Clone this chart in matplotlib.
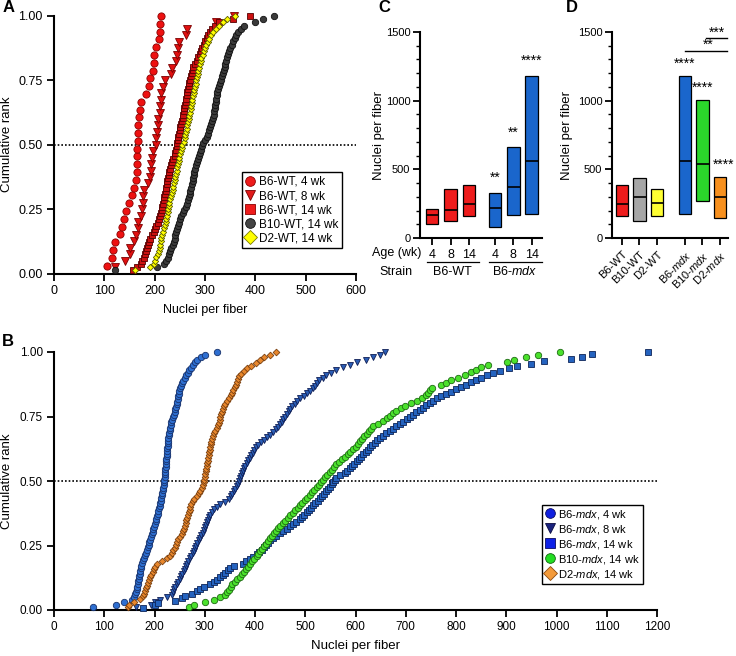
import numpy as np
import matplotlib
matplotlib.use('Agg')
import matplotlib.pyplot as plt
import matplotlib.transforms as mtransforms
from matplotlib.lines import Line2D
from matplotlib.ticker import MultipleLocator, FormatStrFormatter

plt.rcParams['font.family'] = ['Liberation Sans', 'DejaVu Sans']
plt.rcParams['mathtext.fontset'] = 'custom'
plt.rcParams['mathtext.rm'] = 'Liberation Sans'
plt.rcParams['mathtext.it'] = 'Liberation Sans:italic'

# ---- panel A: wild-type nuclei per fiber (sorted values) ----
a_b6wt_4 = [105, 115, 118, 122, 131, 135, 140, 143, 149, 155, 159, 163, 165, 165, 165, 165,
            167, 167, 167, 169, 170, 173, 183, 189, 190, 197, 199, 199, 203, 209, 211, 211, 213]
a_b6wt_8 = [122, 142, 150, 151, 158, 163, 167, 167, 172, 175, 177, 177, 178, 187, 191, 193,
            193, 195, 197, 202, 203, 205, 207, 207, 210, 210, 212, 213, 217, 220, 233, 235,
            243, 245, 247, 249, 263, 265, 322, 357]
a_b6wt_14 = [157, 165, 172, 175, 178, 180, 182, 184, 186, 189, 191, 195, 198, 200, 203, 206,
             208, 210, 212, 214, 215, 217, 218, 219, 221, 222, 223, 224, 225, 226, 228, 229,
             231, 232, 234, 237, 240, 241, 242, 244, 245, 246, 247, 249, 250, 251, 253, 254,
             256, 257, 258, 259, 260, 262, 263, 264, 265, 267, 268, 269, 271, 272, 274, 276,
             277, 280, 284, 287, 290, 292, 295, 298, 300, 303, 306, 309, 314, 320, 328, 355, 389]
a_b10wt_14 = [122, 205, 218, 223, 226, 228, 231, 233, 236, 238, 240, 241, 243, 245, 247, 249,
              251, 253, 256, 259, 262, 264, 266, 268, 270, 271, 272, 274, 276, 277, 278, 279,
              281, 282, 284, 287, 289, 291, 293, 295, 297, 300, 303, 305, 307, 310, 311, 313,
              315, 317, 318, 319, 320, 321, 322, 323, 324, 326, 328, 330, 332, 334, 336, 337,
              339, 340, 342, 344, 346, 347, 350, 353, 356, 359, 362, 366, 372, 378, 400, 415, 437]
a_d2wt_14 = [160, 190, 198, 201, 203, 206, 208, 210, 211, 212, 213, 215, 216, 218, 220, 222,
             223, 224, 226, 227, 228, 229, 231, 233, 234, 236, 237, 239, 240, 241, 243, 244,
             245, 247, 248, 249, 250, 252, 254, 255, 258, 260, 261, 262, 264, 265, 267, 268,
             269, 270, 272, 273, 274, 275, 277, 278, 279, 280, 282, 283, 285, 286, 287, 289,
             290, 292, 293, 296, 298, 300, 302, 305, 307, 311, 316, 322, 328, 335, 343, 360]

# ---- panel B: mdx nuclei per fiber ----
b_b6mdx_4 = [77, 124, 140, 155, 160, 162, 164, 165, 166, 167, 168, 169, 170, 171, 172, 173,
             174, 175, 177, 179, 181, 183, 185, 187, 189, 190, 191, 193, 195, 197, 198, 199,
             201, 202, 203, 205, 206, 207, 209, 210, 211, 212, 213, 214, 215, 216, 217, 218,
             219, 219, 220, 220, 221, 221, 222, 222, 223, 223, 224, 224, 225, 225, 226, 226,
             227, 227, 228, 229, 230, 231, 232, 233, 235, 237, 238, 240, 241, 243, 244, 245,
             246, 247, 248, 249, 251, 253, 255, 257, 260, 263, 266, 268, 272, 276, 280, 285,
             292, 300, 325]
b_b6mdx_8 = [164, 194, 201, 211, 225, 234, 236, 238, 241, 244, 247, 250, 252, 255, 258, 260,
             262, 264, 267, 270, 273, 276, 278, 280, 283, 285, 288, 291, 293, 296, 298, 300,
             302, 304, 306, 308, 311, 314, 318, 324, 331, 340, 348, 352, 355, 358, 361, 364,
             366, 368, 370, 372, 374, 376, 378, 381, 384, 387, 390, 393, 396, 399, 402, 406,
             412, 418, 424, 430, 436, 441, 445, 449, 453, 456, 460, 463, 467, 470, 474, 479,
             484, 490, 497, 503, 510, 516, 520, 524, 528, 535, 542, 552, 562, 576, 590, 602,
             620, 635, 648, 659]
b_b6mdx_14 = [177, 201, 207, 241, 254, 261, 274, 284, 291, 298, 311, 318, 324, 331, 336, 341,
              346, 351, 358, 377, 383, 390, 397, 403, 408, 413, 417, 422, 426, 430, 436, 442,
              450, 456, 463, 470, 476, 482, 489, 494, 498, 503, 508, 512, 516, 520, 525, 529,
              534, 538, 542, 546, 550, 553, 556, 559, 562, 570, 579, 584, 589, 594, 598, 602,
              607, 611, 615, 620, 624, 628, 633, 638, 642, 648, 655, 661, 668, 674, 681, 688,
              695, 702, 708, 715, 721, 728, 734, 741, 748, 755, 762, 770, 780, 790, 800, 810,
              820, 830, 840, 850, 862, 874, 888, 905, 922, 949, 975, 1028, 1051, 1070, 1182]
b_b10mdx_14 = [268, 278, 301, 318, 331, 341, 345, 348, 352, 355, 360, 365, 370, 375, 379, 383,
               387, 391, 395, 399, 403, 406, 410, 414, 418, 421, 425, 429, 433, 437, 441, 446,
               450, 455, 460, 465, 470, 476, 480, 485, 489, 494, 499, 504, 509, 513, 518, 523,
               527, 532, 536, 540, 544, 549, 553, 557, 562, 567, 573, 579, 585, 590, 595, 600,
               605, 609, 613, 617, 622, 626, 630, 635, 645, 655, 662, 668, 675, 681, 690, 698,
               711, 722, 733, 741, 745, 748, 752, 770, 780, 790, 803, 817, 830, 840, 850, 863,
               902, 916, 939, 963, 1007]
b_d2mdx_14 = [147, 150, 160, 172, 177, 179, 181, 183, 185, 187, 189, 191, 194, 197, 199, 201,
              205, 215, 224, 230, 234, 237, 240, 242, 244, 247, 251, 254, 256, 258, 260, 262,
              263, 264, 266, 268, 270, 271, 273, 276, 279, 284, 288, 291, 294, 296, 298, 299,
              300, 301, 302, 303, 304, 305, 306, 307, 308, 309, 310, 311, 312, 313, 314, 316,
              319, 321, 324, 326, 328, 330, 331, 333, 334, 337, 339, 341, 344, 348, 352, 355,
              357, 360, 362, 364, 366, 368, 372, 378, 385, 393, 402, 410, 418, 430, 442]

a_labels = ['B6-WT, 4 wk', 'B6-WT, 8 wk', 'B6-WT, 14 wk', 'B10-WT, 14 wk', 'D2-WT, 14 wk']
b_labels = ['B6-$\\it{mdx}$, 4 wk', 'B6-$\\it{mdx}$, 8 wk', 'B6-$\\it{mdx}$, 14 wk',
            'B10-$\\it{mdx}$, 14 wk', 'D2-$\\it{mdx}$, 14 wk']

# ---- panels C and D: categories and significance marks ----
c_ages = ['4', '8', '14', '4', '8', '14']
c_strains = ['B6-WT', 'B6-$\\it{mdx}$']
c_sig = ['', '', '', '**', '**', '****']
d_groups = ['B6-WT', 'B10-WT', 'D2-WT', 'B6-$\\it{mdx}$', 'B10-$\\it{mdx}$', 'D2-$\\it{mdx}$']
d_sig = ['', '', '', '****', '****', '****']
d_brackets = [(3, 5, '**'), (4, 5, '***')]

c_data = [a_b6wt_4, a_b6wt_8, a_b6wt_14, b_b6mdx_4, b_b6mdx_8, b_b6mdx_14]
d_data = [a_b6wt_14, a_b10wt_14, a_d2wt_14, b_b6mdx_14, b_b10mdx_14, b_d2mdx_14]

W, H = 736, 656
fig = plt.figure(figsize=(W / 100, H / 100), dpi=100)


def px_axes(l, t, r, b):
    return fig.add_axes([l / W, 1 - b / H, (r - l) / W, (b - t) / H])


def style(ax, size=9):
    for s in ('top', 'right'):
        ax.spines[s].set_visible(False)
    for s in ('left', 'bottom'):
        ax.spines[s].set_linewidth(1.5)
    ax.tick_params(direction='out', length=5, width=1.3, labelsize=size, pad=3)
    ax.tick_params(which='minor', direction='out', length=3, width=1.0)


def cdf(ax, vals, marker, ms, fc, ec, z):
    v = np.sort(np.asarray(vals, float))
    y = np.arange(1, len(v) + 1) / len(v)
    ax.plot(v, y, ls='none', marker=marker, ms=ms, mfc=fc, mec=ec, mew=0.6,
            clip_on=False, zorder=z)


def legend(ax, markers, fcs, ecs, labels, anchor, size):
    handles = [Line2D([], [], ls='none', marker=m, ms=7, mfc=f, mec=e, mew=0.6)
               for m, f, e in zip(markers, fcs, ecs)]
    lg = ax.legend(handles, labels, loc='lower left', bbox_to_anchor=anchor,
                   fontsize=size, frameon=True, fancybox=False, framealpha=1,
                   edgecolor='black', handlelength=0.8, handletextpad=0.35,
                   labelspacing=0.18, borderpad=0.3, borderaxespad=0)
    lg.get_frame().set_linewidth(1.0)


# ---------------- A ----------------
axA = px_axes(54, 16, 356, 273.5)
style(axA)
axA.axhline(0.5, color='black', lw=1.2, ls=(0, (1, 1.2)), zorder=1)
a_series = [a_b6wt_4, a_b6wt_8, a_b6wt_14, a_b10wt_14, a_d2wt_14]
a_mk = ['o', 'v', 's', 'o', 'D']
a_ms = [5.2, 5.5, 4.3, 4.6, 3.2]
a_fc = ['#ee1111', '#e01010', '#cc1010', '#3a3a3a', '#ffff00']
a_ec = ['#8a0000', '#7a0000', '#550000', '#111111', '#5c5c00']
for i, (vals, m, s, f, e) in enumerate(zip(a_series, a_mk, a_ms, a_fc, a_ec)):
    cdf(axA, vals, m, s, f, e, 3 + i)
axA.set_xlim(0, 600)
axA.set_ylim(0, 1)
axA.xaxis.set_major_locator(MultipleLocator(100))
axA.yaxis.set_major_locator(MultipleLocator(0.25))
axA.yaxis.set_major_formatter(FormatStrFormatter('%.2f'))
axA.set_xlabel('Nuclei per fiber', fontsize=9, labelpad=5)
axA.set_ylabel('Cumulative rank', fontsize=9.5)
axA.yaxis.set_label_coords(-0.136, 0.5)
legend(axA, a_mk, ['#ee1c1c', '#e01a1a', '#ee1c1c', '#444444', '#ffff00'],
       ['#8a0000', '#7a0000', '#8a0000', '#111111', '#7a7a00'], a_labels,
       (0.623, 0.099), 8.5)

# ---------------- B ----------------
axB = px_axes(54, 352, 657, 610)
style(axB, 8.5)
axB.axhline(0.5, color='black', lw=1.2, ls=(0, (1, 1.2)), zorder=1)
b_series = [b_b6mdx_4, b_b6mdx_8, b_b6mdx_14, b_b10mdx_14, b_d2mdx_14]
b_mk = ['o', 'v', 's', 'o', 'D']
b_ms = [4.6, 4.4, 4.0, 4.6, 3.4]
b_fc = ['#2e6fd1', '#2a5db5', '#2563bf', '#4be12c', '#e8872c']
b_ec = ['#17316b', '#101f55', '#0e2558', '#1d6b12', '#7a4010']
for i, (vals, m, s, f, e) in enumerate(zip(b_series, b_mk, b_ms, b_fc, b_ec)):
    cdf(axB, vals, m, s, f, e, 3 + i)
axB.set_xlim(0, 1200)
axB.set_ylim(0, 1)
axB.xaxis.set_major_locator(MultipleLocator(100))
axB.yaxis.set_major_locator(MultipleLocator(0.25))
axB.yaxis.set_major_formatter(FormatStrFormatter('%.2f'))
axB.set_xlabel('Nuclei per fiber', fontsize=9.5, labelpad=5)
axB.set_ylabel('Cumulative rank', fontsize=9.5)
axB.yaxis.set_label_coords(-0.068, 0.5)
legend(axB, b_mk, ['#1020e0', '#1a237e', '#0d20e6', '#22dd22', '#f39a3a'],
       ['#0a0a60', '#0a0a40', '#0a0a60', '#116611', '#8a4a10'], b_labels,
       (0.809, 0.10), 8)


# ---------------- C and D: min-max floating bars with median ----------------
def range_bars(ax, data, pos, colors, width):
    lo = np.array([np.min(d) for d in data])
    hi = np.array([np.max(d) for d in data])
    med = np.array([np.median(d) for d in data])
    ax.bar(pos, hi - lo, bottom=lo, width=width, color=colors,
           edgecolor='black', linewidth=0.9, zorder=2)
    ax.hlines(med, pos - width / 2, pos + width / 2, color='black', lw=1.2, zorder=3)
    return hi


def bar_axes(ax, label_x):
    style(ax, 8.5)
    ax.tick_params(axis='y', labelsize=8, pad=2)
    ax.set_ylim(0, 1500)
    ax.yaxis.set_major_locator(MultipleLocator(500))
    ax.yaxis.set_minor_locator(MultipleLocator(100))
    ax.set_ylabel('Nuclei per fiber', fontsize=9.5)
    ax.yaxis.set_label_coords(label_x, 0.5)


axC = px_axes(420, 32, 542, 238)
bar_axes(axC, -0.29)
c_pos = np.array([0, 1, 2, 3.4, 4.4, 5.4])
c_col = ['#ee1c1c'] * 3 + ['#1a66cc'] * 3
c_hi = range_bars(axC, c_data, c_pos, c_col, 0.68)
for x, top, s in zip(c_pos, c_hi, c_sig):
    if s:
        axC.text(x, top + 110, s, ha='center', va='center', fontsize=10)
axC.set_xlim(-0.66, 5.96)
axC.set_xticks(c_pos)
axC.set_xticklabels(c_ages, fontsize=9)
trC = mtransforms.blended_transform_factory(axC.transData, axC.transAxes)
axC.text(-1.95, -0.075, 'Age (wk)', transform=trC, ha='center', va='center', fontsize=9)
axC.text(-1.95, -0.165, 'Strain', transform=trC, ha='center', va='center', fontsize=9)
for k, name in enumerate(c_strains):
    g = c_pos[3 * k:3 * k + 3]
    axC.plot([g[0] - 0.3, g[-1] + 0.55], [-0.117, -0.117], color='black', lw=0.9,
             transform=trC, clip_on=False)
    axC.text(g.mean() + 0.1, -0.165, name, transform=trC, ha='center', va='center',
             fontsize=9)

axD = px_axes(612, 32, 728, 238)
bar_axes(axD, -0.34)
d_pos = np.array([0, 1, 2, 3.6, 4.6, 5.6])
d_col = ['#ee1c1c', '#a6a6a6', '#ffff33', '#1a66cc', '#2bd62b', '#f7901e']
d_hi = range_bars(axD, d_data, d_pos, d_col, 0.7)
for i, (x, top, s) in enumerate(zip(d_pos, d_hi, d_sig)):
    if s:
        dx = 0.2 if i == len(d_pos) - 1 else 0
        axD.text(x + dx, top + 90, s, ha='center', va='center', fontsize=10,
                 clip_on=False)
for (i0, i1, s), yv in zip(d_brackets, [1365, 1456]):
    x0 = d_pos[i0] if i0 == 3 else d_pos[i0] + 0.2
    x1 = d_pos[i1] + 0.4
    axD.plot([x0, x1], [yv, yv], color='black', lw=1.0, clip_on=False)
    xm = (x0 + x1) / 2 + (0.15 if i0 == 3 else 0)
    axD.text(xm, yv + 40, s, ha='center', va='center', fontsize=10, clip_on=False)
axD.set_xlim(-0.57, 6.06)
axD.set_xticks(d_pos)
axD.set_xticklabels(d_groups, rotation=45, ha='right', rotation_mode='anchor', fontsize=8)

for lab, x, y in [('A', 3, 8), ('C', 378, 8), ('D', 566, 8), ('B', 2, 342)]:
    fig.text(x / W, 1 - y / H, lab, fontsize=12, fontweight='bold', va='center', ha='left')

fig.savefig('out.png', dpi=100)
